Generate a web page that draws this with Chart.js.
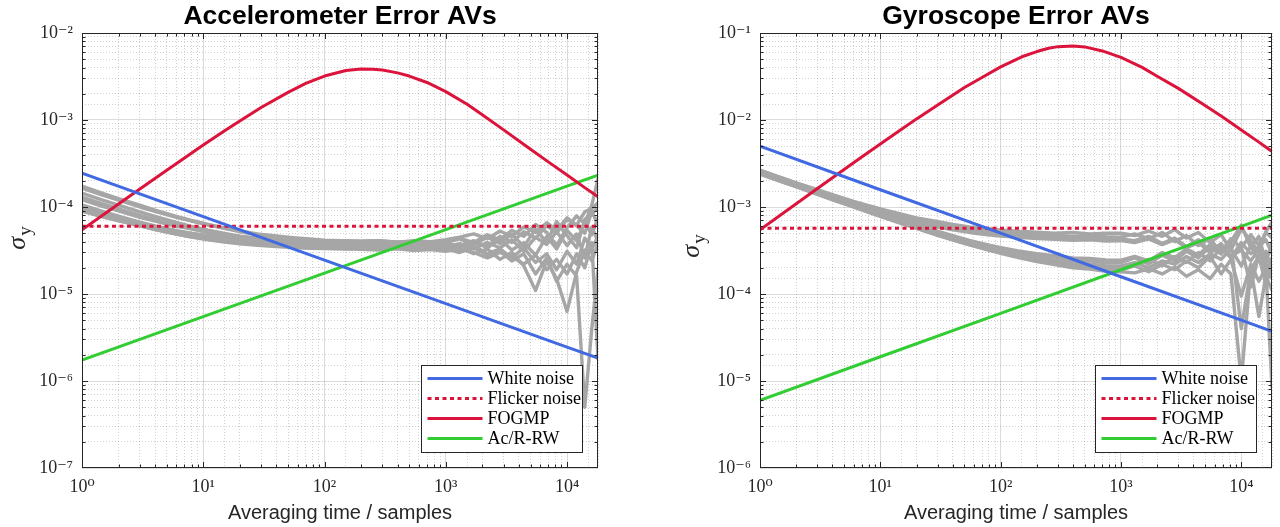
<!DOCTYPE html>
<html><head><meta charset="utf-8">
<script src="https://cdn.jsdelivr.net/npm/chart.js@4.4.1/dist/chart.umd.min.js"></script>
<style>
html,body{margin:0;padding:0;background:#fff;width:1280px;height:527px;overflow:hidden}
.w{position:absolute;top:0;width:640px;height:527px}
</style></head><body>
<div class="w" style="left:0"><canvas id="acc" width="640" height="527"></canvas></div>
<div class="w" style="left:640px"><canvas id="gyr" width="640" height="527"></canvas></div>
<script>
// ---------------- data ----------------
const chartTitles = ['Accelerometer Error AVs', 'Gyroscope Error AVs'];
const xAxisTitle = 'Averaging time / samples';
const legendLabels = ['White noise', 'Flicker noise', 'FOGMP', 'Ac/R-RW'];
const xRange = [1, 18000];
const accYRange = [1e-7, 1e-2];
const gyrYRange = [1e-6, 1e-1];

const lineTau = [1, 10, 100, 1000, 10000, 18000];
const flickerTau = [1, 18000];
const fogmpTau = [1, 2, 3, 5, 7, 10, 15, 20, 30, 50, 70, 100, 150, 200, 250, 300, 400, 500, 700, 1000, 1500, 2000, 3000, 5000, 7000, 10000, 14000, 18000];
const grayTau = [1, 1.5, 2, 3, 4, 6, 8, 11, 15, 20, 28, 40, 55, 75, 100, 140, 200, 280, 400, 550, 750, 1000, 1300, 1700, 2200, 2800, 3500, 4400, 5500, 6800, 8200, 10000, 12000, 14000, 16000, 18000];

// Accelerometer
const accWhite = [2.45e-4, 7.75e-5, 2.45e-5, 7.75e-6, 2.45e-6, 1.83e-6];
const accFlicker = [6.0e-5, 6.0e-5];
const accFogmp = [5.46e-5, 1.08e-4, 1.61e-4, 2.64e-4, 3.66e-4, 5.15e-4, 7.52e-4, 9.73e-4, 1.39e-3, 2.08e-3, 2.63e-3, 3.2e-3, 3.71e-3, 3.85e-3, 3.84e-3, 3.75e-3, 3.48e-3, 3.2e-3, 2.7e-3, 2.12e-3, 1.52e-3, 1.15e-3, 7.7e-4, 4.6e-4, 3.3e-4, 2.33e-4, 1.67e-4, 1.31e-4];
const accRW = [1.74e-6, 5.5e-6, 1.74e-5, 5.5e-5, 1.74e-4, 2.33e-4];

const accGray1 = [17.4e-5,14.3e-5,12.5e-5,10.5e-5,9.2e-5,7.8e-5,7.0e-5,6.3e-5,5.7e-5,5.2e-5,4.8e-5,4.5e-5,4.3e-5,4.1e-5,4.0e-5,3.9e-5,3.8e-5,3.7e-5,3.8e-5,3.6e-5,3.75e-5,3.8e-5,3.6e-5,4.1e-5,3.5e-5,4.6e-5,3.9e-5,5.2e-5,4.4e-5,6.1e-5,5.0e-5,7.3e-5,6.2e-5,8.8e-5,9.6e-5,11.2e-5];
const accGray2 = [16.5e-5,13.6e-5,12.0e-5,10.0e-5,8.9e-5,7.6e-5,6.9e-5,6.2e-5,5.7e-5,5.3e-5,4.9e-5,4.65e-5,4.45e-5,4.3e-5,4.15e-5,4.1e-5,4.05e-5,4.1e-5,3.95e-5,4.05e-5,3.9e-5,4.1e-5,4.4e-5,3.9e-5,4.8e-5,4.2e-5,5.4e-5,4.6e-5,6.3e-5,5.1e-5,3.6e-5,5.8e-5,7.9e-5,6.4e-5,10.5e-5,21e-5];
const accGray3 = [13.0e-5,10.8e-5,9.5e-5,8.0e-5,7.2e-5,6.2e-5,5.6e-5,5.1e-5,4.75e-5,4.5e-5,4.2e-5,4.0e-5,3.9e-5,3.8e-5,3.7e-5,3.65e-5,3.6e-5,3.5e-5,3.6e-5,3.45e-5,3.55e-5,3.4e-5,3.2e-5,3.6e-5,2.9e-5,3.3e-5,2.6e-5,3.4e-5,2.3e-5,2.9e-5,1.9e-5,3.1e-5,2.2e-5,4.4e-5,3.3e-5,4.6e-5];
const accGray4 = [12.1e-5,10.1e-5,9.0e-5,7.6e-5,6.9e-5,6.0e-5,5.6e-5,5.1e-5,4.8e-5,4.6e-5,4.4e-5,4.2e-5,4.1e-5,4.0e-5,3.95e-5,3.9e-5,3.9e-5,3.8e-5,3.95e-5,3.8e-5,3.9e-5,3.9e-5,4.3e-5,3.7e-5,4.5e-5,3.8e-5,4.9e-5,3.5e-5,5.6e-5,3.9e-5,6.8e-5,4.7e-5,3.4e-5,7.2e-5,8.4e-5,9.8e-5];
const accGray5 = [10.6e-5,8.85e-5,7.85e-5,6.7e-5,6.05e-5,5.3e-5,4.9e-5,4.55e-5,4.3e-5,4.07e-5,3.9e-5,3.75e-5,3.66e-5,3.6e-5,3.55e-5,3.5e-5,3.48e-5,3.4e-5,3.5e-5,3.35e-5,3.45e-5,3.3e-5,3.0e-5,3.4e-5,2.8e-5,3.1e-5,2.4e-5,2.9e-5,1.7e-5,2.6e-5,1.4e-5,2.2e-5,1.6e-5,0.05e-5,0.4e-5,1.9e-5];
const accGray6 = [10.2e-5,8.6e-5,7.65e-5,6.6e-5,6.0e-5,5.36e-5,5.0e-5,4.68e-5,4.44e-5,4.27e-5,4.11e-5,4.0e-5,3.92e-5,3.86e-5,3.82e-5,3.79e-5,3.76e-5,3.7e-5,3.8e-5,3.65e-5,3.75e-5,3.8e-5,3.5e-5,4.0e-5,3.4e-5,4.3e-5,3.2e-5,3.9e-5,2.8e-5,4.6e-5,3.3e-5,5.4e-5,4.1e-5,6.6e-5,4.8e-5,7.5e-5];
const accGray7 = [9.4e-5,7.9e-5,7.04e-5,6.06e-5,5.5e-5,4.88e-5,4.54e-5,4.24e-5,4.0e-5,3.84e-5,3.7e-5,3.58e-5,3.51e-5,3.45e-5,3.42e-5,3.38e-5,3.36e-5,3.3e-5,3.4e-5,3.25e-5,3.35e-5,3.2e-5,3.4e-5,2.9e-5,3.3e-5,2.5e-5,3.0e-5,2.1e-5,1.1e-5,2.4e-5,1.5e-5,0.63e-5,1.8e-5,3.2e-5,2.4e-5,3.8e-5];
const accGray8 = [8.94e-5,7.66e-5,6.93e-5,6.1e-5,5.66e-5,5.16e-5,4.9e-5,4.67e-5,4.5e-5,4.38e-5,4.28e-5,4.2e-5,4.14e-5,4.1e-5,4.08e-5,4.06e-5,4.04e-5,4.1e-5,3.95e-5,4.1e-5,4.0e-5,4.2e-5,4.5e-5,4.9e-5,4.3e-5,5.3e-5,4.6e-5,5.9e-5,5.1e-5,6.6e-5,5.4e-5,7.5e-5,6.1e-5,5.0e-5,8.9e-5,6.2e-5];
const accGray9 = [9.55e-5,8.0e-5,7.12e-5,6.1e-5,5.52e-5,4.87e-5,4.51e-5,4.2e-5,3.95e-5,3.78e-5,3.62e-5,3.5e-5,3.42e-5,3.36e-5,3.32e-5,3.29e-5,3.26e-5,3.2e-5,3.3e-5,3.15e-5,3.25e-5,3.1e-5,3.3e-5,3.0e-5,2.6e-5,3.0e-5,2.7e-5,2.2e-5,2.8e-5,1.9e-5,2.5e-5,1.7e-5,2.9e-5,2.0e-5,3.9e-5,0.18e-5];
const accGray10 = [14.4e-5,11.9e-5,10.5e-5,8.77e-5,7.78e-5,6.66e-5,6.0e-5,5.42e-5,4.97e-5,4.63e-5,4.31e-5,4.06e-5,3.89e-5,3.77e-5,3.68e-5,3.6e-5,3.54e-5,3.5e-5,3.55e-5,3.42e-5,3.5e-5,3.5e-5,3.8e-5,3.3e-5,3.9e-5,3.4e-5,4.2e-5,3.1e-5,4.5e-5,3.7e-5,5.2e-5,3.6e-5,4.9e-5,2.6e-5,5.9e-5,4.0e-5];

// Gyroscope
const gyrWhite = [5.0e-3, 1.58e-3, 5.0e-4, 1.58e-4, 5.0e-5, 3.73e-5];
const gyrFlicker = [5.7e-4, 5.7e-4];
const gyrFogmp = [5.48e-4, 1.09e-3, 1.63e-3, 2.7e-3, 3.75e-3, 5.31e-3, 7.82e-3, 1.03e-2, 1.49e-2, 2.36e-2, 3.08e-2, 4.08e-2, 5.33e-2, 6.12e-2, 6.67e-2, 6.97e-2, 7.11e-2, 6.92e-2, 6.22e-2, 5.24e-2, 4.03e-2, 3.19e-2, 2.31e-2, 1.47e-2, 1.08e-2, 7.69e-3, 5.57e-3, 4.35e-3];
const gyrRW = [6.0e-6, 1.9e-5, 6.0e-5, 1.9e-4, 6.0e-4, 8.05e-4];

const gyrGray1 = [26.4e-4,21.8e-4,19.0e-4,15.8e-4,13.9e-4,11.6e-4,10.4e-4,9.2e-4,8.25e-4,7.5e-4,6.9e-4,6.3e-4,5.9e-4,5.66e-4,5.46e-4,5.27e-4,5.14e-4,5.0e-4,5.1e-4,4.9e-4,5.0e-4,5.0e-4,4.7e-4,5.3e-4,4.6e-4,5.5e-4,4.4e-4,5.1e-4,3.9e-4,4.8e-4,3.2e-4,5.6e-4,4.1e-4,3.0e-4,5.2e-4,6.7e-4];
const gyrGray2 = [25.4e-4,20.9e-4,18.2e-4,15.1e-4,13.3e-4,11.15e-4,9.92e-4,8.78e-4,7.87e-4,7.18e-4,6.52e-4,5.99e-4,5.63e-4,5.35e-4,5.15e-4,4.97e-4,4.83e-4,4.75e-4,4.6e-4,4.7e-4,4.55e-4,4.5e-4,4.9e-4,4.3e-4,5.1e-4,4.0e-4,4.7e-4,3.6e-4,4.4e-4,2.9e-4,4.0e-4,6.2e-4,3.4e-4,4.6e-4,2.3e-4,3.9e-4];
const gyrGray3 = [24.9e-4,20.4e-4,17.8e-4,14.75e-4,12.95e-4,10.84e-4,9.62e-4,8.49e-4,7.59e-4,6.9e-4,6.25e-4,5.71e-4,5.34e-4,5.06e-4,4.86e-4,4.68e-4,4.54e-4,4.45e-4,4.35e-4,4.4e-4,4.25e-4,4.3e-4,4.1e-4,4.6e-4,3.8e-4,4.4e-4,3.5e-4,4.2e-4,3.1e-4,3.8e-4,2.6e-4,3.5e-4,1.2e-4,2.8e-4,1.9e-4,2.6e-4];
const gyrGray4 = [25.6e-4,20.9e-4,18.1e-4,14.8e-4,12.9e-4,10.6e-4,9.21e-4,7.92e-4,6.85e-4,6.01e-4,5.18e-4,4.46e-4,3.92e-4,3.5e-4,3.18e-4,2.87e-4,2.62e-4,2.45e-4,2.28e-4,2.22e-4,2.1e-4,2.1e-4,2.3e-4,2.0e-4,2.4e-4,2.2e-4,2.7e-4,2.3e-4,2.9e-4,2.5e-4,3.3e-4,2.1e-4,3.6e-4,2.4e-4,3.1e-4,1.8e-4];
const gyrGray5 = [25.06e-4,20.5e-4,17.76e-4,14.5e-4,12.6e-4,10.35e-4,9.0e-4,7.73e-4,6.68e-4,5.84e-4,5.02e-4,4.3e-4,3.78e-4,3.35e-4,3.02e-4,2.71e-4,2.45e-4,2.25e-4,2.13e-4,1.98e-4,1.95e-4,1.9e-4,2.1e-4,1.8e-4,2.2e-4,1.9e-4,2.4e-4,2.0e-4,2.7e-4,1.7e-4,2.5e-4,0.95e-4,2.2e-4,1.4e-4,2.0e-4,0.085e-4];
const gyrGray6 = [24.1e-4,19.7e-4,17.1e-4,13.97e-4,12.1e-4,9.96e-4,8.67e-4,7.46e-4,6.45e-4,5.66e-4,4.88e-4,4.2e-4,3.7e-4,3.3e-4,3.0e-4,2.71e-4,2.47e-4,2.32e-4,2.14e-4,2.1e-4,1.98e-4,1.98e-4,2.2e-4,2.5e-4,2.1e-4,2.7e-4,2.3e-4,3.0e-4,2.4e-4,3.4e-4,2.6e-4,3.9e-4,2.9e-4,3.5e-4,4.2e-4,2.9e-4];
const gyrGray7 = [26.6e-4,21.7e-4,18.85e-4,15.44e-4,13.4e-4,11.0e-4,9.6e-4,8.26e-4,7.16e-4,6.28e-4,5.43e-4,4.69e-4,4.14e-4,3.71e-4,3.38e-4,3.07e-4,2.81e-4,2.65e-4,2.45e-4,2.4e-4,2.28e-4,2.3e-4,2.6e-4,2.2e-4,2.8e-4,2.4e-4,3.1e-4,2.6e-4,3.5e-4,2.9e-4,3.8e-4,0.4e-4,1.9e-4,2.7e-4,1.3e-4,2.1e-4];
const gyrGray8 = [24.55e-4,20.06e-4,17.39e-4,14.23e-4,12.35e-4,10.13e-4,8.81e-4,7.55e-4,6.52e-4,5.71e-4,4.89e-4,4.19e-4,3.67e-4,3.25e-4,2.93e-4,2.62e-4,2.36e-4,2.18e-4,2.0e-4,1.93e-4,1.82e-4,1.8e-4,1.75e-4,1.95e-4,1.7e-4,2.05e-4,1.6e-4,1.9e-4,1.5e-4,2.2e-4,1.7e-4,0.1e-4,2.0e-4,0.55e-4,1.6e-4,1.1e-4];
const gyrGray9 = [25.1e-4,20.54e-4,17.83e-4,14.6e-4,12.7e-4,10.46e-4,9.13e-4,7.88e-4,6.86e-4,6.05e-4,5.25e-4,4.57e-4,4.09e-4,3.69e-4,3.4e-4,3.12e-4,2.9e-4,2.76e-4,2.6e-4,2.56e-4,2.46e-4,2.45e-4,2.7e-4,2.4e-4,3.0e-4,2.6e-4,3.3e-4,2.8e-4,3.7e-4,3.1e-4,4.3e-4,3.4e-4,4.8e-4,3.6e-4,5.1e-4,4.4e-4];
const gyrGray10 = [23.8e-4,19.6e-4,17.1e-4,14.1e-4,12.4e-4,10.4e-4,9.22e-4,8.14e-4,7.27e-4,6.6e-4,5.98e-4,5.46e-4,5.1e-4,4.83e-4,4.64e-4,4.47e-4,4.33e-4,4.25e-4,4.15e-4,4.2e-4,4.05e-4,4.1e-4,3.9e-4,4.3e-4,3.7e-4,4.2e-4,3.4e-4,3.9e-4,3.0e-4,3.6e-4,2.7e-4,3.2e-4,2.4e-4,3.3e-4,2.1e-4,1.5e-4];

const accGrays = [accGray1, accGray2, accGray3, accGray4, accGray5, accGray6, accGray7, accGray8, accGray9, accGray10];
const gyrGrays = [gyrGray1, gyrGray2, gyrGray3, gyrGray4, gyrGray5, gyrGray6, gyrGray7, gyrGray8, gyrGray9, gyrGray10];

// ---------------- style ----------------
const BLUE = '#4169e1', RED = '#dc143c', GREEN = '#32cd32', GRAY = '#a6a6a6', AX = '#262626';
const SERIF = '"Liberation Serif", "DejaVu Serif", "Times New Roman", serif';
const SANS = '"Liberation Sans", Arial, Helvetica, sans-serif';
const SUP = {'0':'⁰','1':'¹','2':'²','3':'³','4':'⁴','5':'⁵','6':'⁶','7':'⁷','8':'⁸','9':'⁹','-':'⁻'};

function pts(xs, ys) { return xs.map((x, i) => ({x: x, y: ys[i]})); }
function isPow10(v) { const e = Math.log10(v); return Math.abs(e - Math.round(e)) < 1e-6; }
function isMinorStep(v) {
  const e = Math.floor(Math.log10(v) + 1e-9);
  const m = v / Math.pow(10, e);
  return Math.abs(m - Math.round(m)) < 1e-6;
}
function powLabel(v) {
  if (!isPow10(v)) return '';
  const r = Math.round(Math.log10(v));
  return '10' + String(r).split('').map(c => SUP[c]).join('');
}

const frame = {
  id: 'frame',
  afterDatasetsDraw(chart) {
    const {ctx, chartArea: ca, scales} = chart;
    ctx.save();
    ctx.strokeStyle = AX; ctx.lineWidth = 1;
    ctx.beginPath();
    scales.x.ticks.forEach(t => {
      if (!isMinorStep(t.value)) return;
      const p = Math.round(scales.x.getPixelForValue(t.value)) + 0.5;
      if (p <= ca.left + 1 || p >= ca.right - 1) return;
      const L = isPow10(t.value) ? 6 : 3.5;
      ctx.moveTo(p, ca.bottom); ctx.lineTo(p, ca.bottom - L);
      ctx.moveTo(p, ca.top); ctx.lineTo(p, ca.top + L);
    });
    scales.y.ticks.forEach(t => {
      if (!isMinorStep(t.value)) return;
      const p = Math.round(scales.y.getPixelForValue(t.value)) + 0.5;
      if (p <= ca.top + 1 || p >= ca.bottom - 1) return;
      const L = isPow10(t.value) ? 6 : 3.5;
      ctx.moveTo(ca.left, p); ctx.lineTo(ca.left + L, p);
      ctx.moveTo(ca.right, p); ctx.lineTo(ca.right - L, p);
    });
    ctx.stroke();
    ctx.strokeRect(Math.round(ca.left) + 0.5, Math.round(ca.top) + 0.5, Math.round(ca.right - ca.left) - 1, Math.round(ca.bottom - ca.top) - 1);
    ctx.restore();
  },
  afterDraw(chart, args, opts) {
    const {ctx, chartArea: ca} = chart;
    // legend box
    const w = 161, h = 87;
    const x0 = Math.round(ca.right - 16 - w) + 0.5, y0 = Math.round(ca.bottom - 16 - h) + 0.5;
    ctx.save();
    ctx.fillStyle = '#fff';
    ctx.fillRect(x0, y0, w, h);
    ctx.strokeStyle = AX; ctx.lineWidth = 1;
    ctx.strokeRect(x0, y0, w, h);
    ctx.font = '18px ' + SERIF;
    ctx.textBaseline = 'middle'; ctx.textAlign = 'left';
    for (let i = 0; i < 4; i++) {
      const ds = chart.data.datasets[i];
      const yy = y0 + 13 + i * 20;
      ctx.strokeStyle = ds.borderColor; ctx.lineWidth = ds.borderWidth;
      ctx.setLineDash(ds.borderDash || []);
      ctx.beginPath(); ctx.moveTo(x0 + 6, yy); ctx.lineTo(x0 + 61, yy); ctx.stroke();
      ctx.setLineDash([]);
      ctx.fillStyle = '#000';
      ctx.fillText(ds.label, x0 + 66, yy + 1);
    }
    // y-axis label sigma_y
    ctx.translate(opts.ylabX, opts.ylabY);
    ctx.rotate(-Math.PI / 2);
    ctx.fillStyle = AX;
    ctx.textBaseline = 'alphabetic';
    ctx.font = 'italic 26px ' + SERIF;
    const w1 = ctx.measureText('σ').width;
    ctx.font = '19px ' + SERIF;
    const w2 = ctx.measureText('y').width;
    const tx = -(w1 + 1 + w2) / 2;
    ctx.font = 'italic 26px ' + SERIF;
    ctx.fillText('σ', tx, 0);
    ctx.font = '19px ' + SERIF;
    ctx.fillText('y', tx + w1 + 1, 6);
    ctx.restore();
  }
};

function makeChart(id, title, white, flicker, fogmp, rw, grays, yRange, yW, padR, ylab) {
  const datasets = [
    {label: legendLabels[0], data: pts(lineTau, white), borderColor: BLUE, borderWidth: 3},
    {label: legendLabels[1], data: pts(flickerTau, flicker), borderColor: RED, borderWidth: 3, borderDash: [4, 3.5]},
    {label: legendLabels[2], data: pts(fogmpTau, fogmp), borderColor: RED, borderWidth: 3},
    {label: legendLabels[3], data: pts(lineTau, rw), borderColor: GREEN, borderWidth: 3},
  ];
  grays.forEach((g, i) => datasets.push({label: 'AV ' + (i + 1), data: pts(grayTau, g), borderColor: GRAY, borderWidth: 3.4}));
  datasets.forEach(d => { d.pointRadius = 0; d.tension = 0; d.fill = false; d.borderJoinStyle = 'round'; d.borderCapStyle = 'round'; });
  datasets[1].borderCapStyle = 'butt';

  const gridCol = ctx => (ctx.tick && isPow10(ctx.tick.value)) ? 'rgba(0,0,0,0.14)' : 'rgba(0,0,0,0.18)';
  const gridDash = ctx => (ctx.tick && isPow10(ctx.tick.value)) ? [] : [1, 2];

  return new Chart(document.getElementById(id), {
    type: 'line',
    data: {datasets},
    plugins: [frame],
    options: {
      responsive: false, animation: false, devicePixelRatio: 1,
      layout: {padding: {left: 0, right: padR, top: 0, bottom: 0}},
      plugins: {
        legend: {display: false},
        tooltip: {enabled: false},
        title: {display: true, text: title, fullSize: false, color: '#000',
          font: {family: SANS, size: 26.5, weight: 'bold'}, padding: {top: 1.2, bottom: 0}},
        frame: ylab
      },
      scales: {
        x: {
          type: 'logarithmic', min: xRange[0], max: xRange[1],
          grid: {color: gridCol, lineWidth: 1, drawTicks: false},
          border: {display: false, dash: gridDash},
          ticks: {autoSkip: false, maxRotation: 0, padding: 8, color: AX,
            font: {family: SERIF, size: 18}, callback: v => powLabel(v)},
          title: {display: true, text: xAxisTitle, color: AX, font: {family: SANS, size: 20}, padding: {top: 0, bottom: 2}},
          afterFit: s => { s.height = 59; }
        },
        y: {
          type: 'logarithmic', min: yRange[0], max: yRange[1],
          grid: {color: gridCol, lineWidth: 1, drawTicks: false},
          border: {display: false, dash: gridDash},
          ticks: {autoSkip: false, padding: 9, color: AX,
            font: {family: SERIF, size: 18}, callback: v => powLabel(v)},
          afterFit: s => { s.width = yW; }
        }
      }
    }
  });
}

makeChart('acc', chartTitles[0], accWhite, accFlicker, accFogmp, accRW, accGrays, accYRange, 82, 42, {ylabX: 25, ylabY: 238});
makeChart('gyr', chartTitles[1], gyrWhite, gyrFlicker, gyrFogmp, gyrRW, gyrGrays, gyrYRange, 120, 3, {ylabX: 59, ylabY: 246});
</script>
</body></html>
